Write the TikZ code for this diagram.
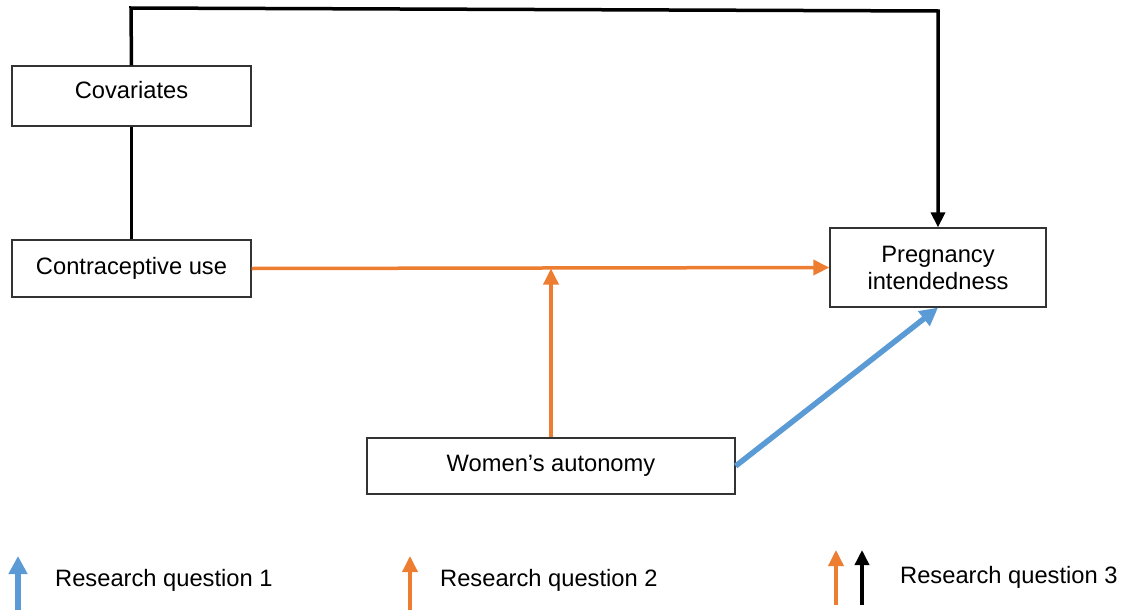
\documentclass[tikz,border=0pt]{standalone}
\usepackage{fontspec}
\setmainfont{Liberation Sans}
\usepackage{xcolor}
\usetikzlibrary{arrows.meta}
\definecolor{rqblue}{HTML}{5B9BD5}
\definecolor{rqorange}{HTML}{ED7D31}
\tikzset{
	box/.style={draw=black!80, line width=1.3pt, fill=white, inner sep=0pt, align=center, font=\fontsize{23.7}{27}\selectfont},
	lbl/.style={anchor=west, inner sep=0pt, font=\fontsize{23.7}{27}\selectfont},
	rqone/.style={draw=rqblue, line width=5.5pt, -{Triangle[length=18pt, width=18pt]}},
	rqtwo/.style={draw=rqorange, line width=3.5pt, -{Triangle[length=16pt, width=15pt]}},
	rqthree/.style={draw=black, line width=3.5pt, -{Triangle[length=15pt, width=14pt]}}
}
\begin{document}
\begin{tikzpicture}[x=1pt, y=-1pt]

		\useasboundingbox (0, 0) rectangle (1127, 613);

		\node[box, minimum width=239pt, minimum height=60pt, text depth=12pt] (cov) at (131.5, 96) {Covariates};
		\node[box, minimum width=239pt, minimum height=57pt] (contra) at (131.5, 268.5) {Contraceptive use};
		\node[box, minimum width=216pt, minimum height=79pt] (preg) at (938, 267.5) {Pregnancy\\intendedness};
		\node[box, minimum width=368pt, minimum height=56pt] (auto) at (551, 466) {Women’s autonomy};

		\coordinate (topl) at (131, 8);
		\coordinate (topr) at (938, 11);
		\coordinate (join) at (auto.north |- contra.east);

		\draw[black, line width=3.5pt] (contra.north) -- (cov.south);
		\draw[rqthree] (cov.north) -- (topl) -- (topr) -- (preg.north);
		\draw[rqtwo] (contra.east) -- (preg.west);
		\draw[rqtwo] (auto.north) -- (join);
		\draw[rqone] (auto.east) -- (preg.south);

		% legend
		\coordinate (la) at (18, 610);
		\coordinate (lb) at (410, 610);
		\coordinate (lc) at (836, 605);
		\coordinate (ld) at (862, 605);
		\draw[rqone] (la) -- ++(0, -54);
		\draw[rqtwo] (lb) -- ++(0, -54);
		\draw[rqtwo] (lc) -- ++(0, -55);
		\draw[rqthree] (ld) -- ++(0, -55);
		\node[lbl] (rq1) at (55, 580) {Research question 1};
		\node[lbl] (rq2) at (440, 580) {Research question 2};
		\node[lbl] (rq3) at (900, 577) {Research question 3};

	\end{tikzpicture}
\end{document}
